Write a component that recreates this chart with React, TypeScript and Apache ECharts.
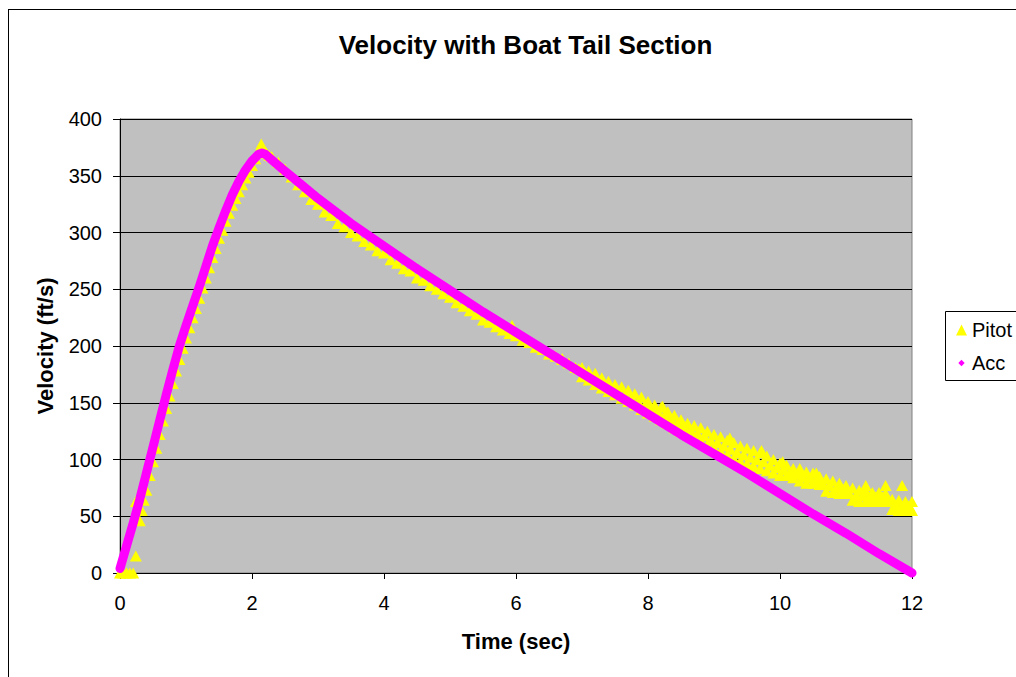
import React, { useEffect, useRef } from "react";
import * as echarts from "echarts";

const FONT = "'Liberation Sans', Arial, Helvetica, sans-serif";

const chartTitle = "Velocity with Boat Tail Section";
const xAxisTitle = "Time (sec)";
const yAxisTitle = "Velocity (ft/s)";

// Acc (accelerometer-derived velocity)
const accTime = [
  0, 0.1, 0.2, 0.3, 0.4, 0.5, 0.6, 0.7, 0.8, 0.9, 1.0, 1.1, 1.2, 1.3, 1.4, 1.5, 1.6,
  1.7, 1.8, 1.9, 2.0, 2.05, 2.1, 2.15, 2.2, 2.3, 2.5, 2.75, 3.0, 3.5, 4.0, 4.5, 5.0,
  5.5, 6.0, 6.5, 7.0, 7.5, 8.0, 8.5, 9.0, 9.5, 10.0, 10.5, 11.0, 11.5, 12.0,
];
const accVelocity = [
  4, 24, 44, 65, 88, 111, 134, 157, 179, 200, 218, 235, 252, 270, 288, 304, 319,
  333, 345, 355, 363, 366, 369, 370, 369, 364, 354, 342, 330, 308, 288, 268, 249,
  230, 212, 194, 176, 158, 140, 122, 105, 88, 70, 52, 35, 17, 0,
];

// Pitot: boost and early coast
const pitotTime = [
  0, 0.05, 0.1, 0.15, 0.2, 0.24, 0.3, 0.33, 0.36, 0.4, 0.45, 0.5, 0.55, 0.6, 0.65,
  0.7, 0.75, 0.8, 0.85, 0.9, 0.95, 1.0, 1.05, 1.1, 1.15, 1.2, 1.25, 1.3, 1.35, 1.4,
  1.45, 1.5, 1.55, 1.6, 1.65, 1.7, 1.75, 1.8, 1.85, 1.9, 1.95, 2.0, 2.05, 2.1, 2.14,
  2.18, 2.22, 2.26, 2.3, 2.4, 2.5, 2.6, 2.7, 2.8, 2.9, 3.0, 3.1, 3.2, 3.3, 3.4, 3.5,
  3.6, 3.7, 3.8, 3.9, 4.0, 4.1, 4.2, 4.3, 4.4, 4.5, 4.6, 4.7, 4.8, 4.9, 5.0, 5.1,
  5.2, 5.3, 5.4, 5.5, 5.6, 5.7, 5.8, 5.9, 6.0, 6.1, 6.2, 6.3, 6.4, 6.5, 6.6, 6.7,
  6.8, 6.9,
];
const pitotVelocity = [
  0, 0, 0, 0, 0, 15, 46, 55, 64, 73, 86, 98, 110, 122, 134,
  145, 156, 167, 178, 188, 198, 207, 216, 225, 233, 242, 251, 260, 269, 278,
  286, 295, 302, 310, 317, 324, 330, 336, 342, 348, 353, 359, 365, 372, 378,
  372, 370, 368, 367, 362, 356, 349, 342, 336, 329, 325, 318, 315, 308, 305, 300,
  297, 292, 289, 284, 282, 276, 273, 268, 266, 260, 258, 253, 250, 246, 243, 238,
  235, 231, 228, 223, 221, 217, 214, 211, 209, 205, 203, 199, 197, 193, 191, 188,
  185, 181,
];

// Pitot: late coast, quantized levels (low / high every 0.1 s, mid in between)
const tailTime = [
  7.0, 7.1, 7.2, 7.3, 7.4, 7.5, 7.6, 7.7, 7.8, 7.9, 8.0, 8.1, 8.2, 8.3, 8.4, 8.5,
  8.6, 8.7, 8.8, 8.9, 9.0, 9.1, 9.2, 9.3, 9.4, 9.5, 9.6, 9.7, 9.8, 9.9, 10.0, 10.1,
  10.2, 10.3, 10.4, 10.5, 10.6, 10.7, 10.8, 10.9, 11.0, 11.1, 11.2, 11.3, 11.4, 11.5,
  11.6, 11.7, 11.8, 11.9, 12.0,
];
const tailLow = [
  173, 170, 166, 163, 160, 157, 154, 151, 148, 144, 141, 138, 135, 132, 128, 125,
  122, 119, 116, 113, 110, 107, 104, 101, 98, 96, 94, 92, 90, 88, 86, 86,
  84, 81, 79, 79, 78, 72, 71, 70, 70, 64, 63, 63, 63, 63,
  63, 56, 55, 55, 55,
];
const tailHigh = [
  181, 178, 176, 172, 169, 166, 164, 161, 158, 155, 151, 148, 146, 142, 139, 135,
  132, 130, 128, 125, 122, 120, 117, 115, 112, 110, 108, 106, 103, 100, 97, 95,
  92, 90, 89, 88, 85, 83, 81, 79, 77, 75, 73, 72, 71, 71,
  70, 65, 64, 63, 63,
];
const tailMidTime = [
  7.05, 7.15, 7.25, 7.35, 7.45, 7.55, 7.65, 7.75, 7.85, 7.95, 8.05, 8.15, 8.25, 8.35,
  8.45, 8.55, 8.65, 8.75, 8.85, 8.95, 9.05, 9.15, 9.25, 9.35, 9.45, 9.55, 9.65, 9.75,
  9.85, 9.95, 10.05, 10.15, 10.25, 10.35, 10.45, 10.55, 10.65, 10.75, 10.85, 10.95,
  11.05, 11.15, 11.25, 11.35, 11.45, 11.55, 11.65, 11.75, 11.85, 11.95,
];
const tailMid = [
  176, 172, 169, 166, 163, 160, 157, 154, 151, 148, 145, 142, 139, 136,
  132, 129, 126, 123, 121, 117, 115, 112, 109, 106, 104, 102, 100, 98,
  95, 93, 91, 89, 87, 85, 84, 82, 79, 77, 75, 74,
  70, 68, 68, 67, 67, 67, 64, 60, 59, 59,
];

// Pitot: isolated noise spikes
const spikeTime = [0.24, 5.94, 6.7, 6.95, 8.22, 9.24, 9.72, 10.04, 10.3, 10.55, 11.3, 11.6, 11.85];
const spikeVelocity = [63, 218, 189, 180, 147, 119, 108, 98, 92, 88, 77, 77, 77];

const yTicks = { min: 0, max: 400, interval: 50 };
const xTicks = { min: 0, max: 12, interval: 2 };

export default function App() {
  const ref = useRef<HTMLDivElement>(null);

  useEffect(() => {
    document.documentElement.style.overflow = "hidden";
    const chart = echarts.init(ref.current as HTMLDivElement, null, { renderer: "svg" });

    const pitotData: number[][] = [];
    pitotTime.forEach((t, i) => pitotData.push([t, pitotVelocity[i]]));
    tailTime.forEach((t, i) => {
      pitotData.push([t, tailLow[i]]);
      pitotData.push([t, tailHigh[i]]);
    });
    tailMidTime.forEach((t, i) => pitotData.push([t, tailMid[i]]));
    spikeTime.forEach((t, i) => pitotData.push([t, spikeVelocity[i]]));

    const accData = accTime.map((t, i) => [t, accVelocity[i]]);

    chart.setOption({
      animation: false,
      backgroundColor: "#ffffff",
      textStyle: { fontFamily: FONT, color: "#000" },
      title: {
        text: chartTitle,
        left: 512.5,
        top: 18,
        textAlign: "center",
        textStyle: { fontFamily: FONT, fontSize: 26, fontWeight: "bold", color: "#000" },
      },
      grid: {
        left: 112,
        top: 110,
        width: 792,
        height: 454,
        show: true,
        backgroundColor: "#C0C0C0",
        borderColor: "#808080",
        borderWidth: 1,
        containLabel: false,
      },
      legend: {
        orient: "vertical",
        left: 948,
        top: 310,
        padding: 0,
        itemGap: 11,
        itemWidth: 11,
        itemHeight: 11,
        selectedMode: false,
        textStyle: { fontFamily: FONT, fontSize: 20, color: "#000", lineHeight: 22 },
        data: [
          { name: "Pitot", icon: "triangle", itemStyle: { color: "#FFFF00" } },
          { name: "Acc", icon: "path://M0,0M12,12M6,2.5L9.5,6L6,9.5L2.5,6Z", itemStyle: { color: "#FF00FF" } },
        ],
      },
      graphic: [
        { type: "line", shape: { x1: 0.5, y1: 0, x2: 0.5, y2: 668 }, style: { stroke: "#000", lineWidth: 1 } },
        { type: "line", shape: { x1: 0, y1: 0.5, x2: 1008, y2: 0.5 }, style: { stroke: "#000", lineWidth: 1 } },
        {
          type: "rect",
          z: -1,
          shape: { x: 937.5, y: 302.5, width: 200, height: 69 },
          style: { fill: "#fff", stroke: "#000", lineWidth: 1 },
        },
      ],
      xAxis: {
        type: "value",
        ...xTicks,
        name: xAxisTitle,
        nameLocation: "middle",
        nameGap: 57,
        nameTextStyle: { fontFamily: FONT, fontSize: 22, fontWeight: "bold", color: "#000" },
        axisLine: { show: true, onZero: false, lineStyle: { color: "#000", width: 1 } },
        axisTick: { show: true, length: 6, lineStyle: { color: "#000" } },
        axisLabel: { fontFamily: FONT, fontSize: 20, color: "#000", margin: 20 },
        splitLine: { show: false },
      },
      yAxis: {
        type: "value",
        ...yTicks,
        name: yAxisTitle,
        nameLocation: "middle",
        nameGap: 64,
        nameTextStyle: { fontFamily: FONT, fontSize: 22, fontWeight: "bold", color: "#000" },
        axisLine: { show: true, onZero: false, lineStyle: { color: "#000", width: 1 } },
        axisTick: { show: true, length: 7, lineStyle: { color: "#000" } },
        axisLabel: { fontFamily: FONT, fontSize: 20, color: "#000", margin: 18 },
        splitLine: { show: true, lineStyle: { color: "#000", width: 1 } },
      },
      series: [
        {
          name: "Pitot",
          type: "scatter",
          data: pitotData,
          symbol: "triangle",
          symbolSize: [12, 11],
          itemStyle: { color: "#FFFF00", opacity: 1 },
          clip: false,
          z: 2,
        },
        {
          name: "Acc",
          type: "line",
          data: accData,
          showSymbol: false,
          symbol: "diamond",
          itemStyle: { color: "#FF00FF" },
          lineStyle: { color: "#FF00FF", width: 9, cap: "round", join: "round" },
          clip: false,
          z: 3,
        },
      ],
    });

    return () => chart.dispose();
  }, []);

  return (
    <div
      ref={ref}
      style={{ position: "fixed", left: 8, top: 9, width: 1008, height: 668, background: "#fff" }}
    />
  );
}
